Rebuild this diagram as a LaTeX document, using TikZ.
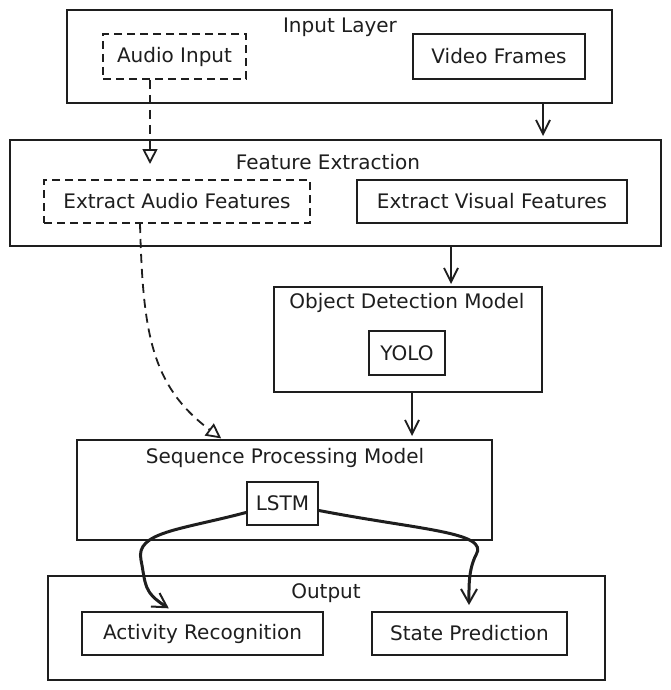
\documentclass[tikz,border=0pt]{standalone}
\usepackage{fontspec}
\setmainfont{DejaVu Sans}
\usetikzlibrary{arrows.meta}
\definecolor{ink}{HTML}{1E1E1E}
\begin{document}
\begin{tikzpicture}[x=1pt,y=-1pt,
  every node/.style={font=\fontsize{20}{24}\selectfont, text=ink},
  group/.style={draw=ink, line width=2pt, rectangle, inner sep=0pt},
  item/.style={draw=ink, line width=2pt, rectangle, inner sep=0pt},
  dashitem/.style={item, dash pattern=on 8pt off 5pt},
  title/.style={inner sep=0pt},
  flow/.style={draw=ink, line width=1.8pt, -{Straight Barb[length=14pt,width=14pt,line width=1.8pt]}},
  dflow/.style={draw=ink, line width=1.8pt, dash pattern=on 9pt off 6pt, -{Triangle[open,length=15pt,width=15pt,line width=1.8pt]}},
  thickflow/.style={draw=ink, line width=3pt, line cap=round, -{Straight Barb[length=14pt,width=16pt,line width=2pt]}},
]
\useasboundingbox (0,0) rectangle (671,690);
\fill[white] (0,0) rectangle (671,690);

% containers
\node[group, minimum width=545pt, minimum height=93pt] (inl) at (339.5,56.5) {};
\node[title] (inlt) at (340,27) {Input Layer};
\node[group, minimum width=651pt, minimum height=106pt] (fe) at (335.5,193) {};
\node[title] (fet) at (328,162) {Feature Extraction};
\node[group, minimum width=268pt, minimum height=105pt] (odm) at (408,339.5) {};
\node[title] (odmt) at (407,303) {Object Detection Model};
\node[group, minimum width=415pt, minimum height=100pt] (spm) at (284.5,490) {};
\node[title] (spmt) at (285,458) {Sequence Processing Model};
\node[group, minimum width=557pt, minimum height=104pt] (out) at (326.5,628) {};
\node[title] (outt) at (326,593) {Output};

% items
\node[dashitem, minimum width=143pt, minimum height=45pt] (audio) at (174.5,56.5) {Audio Input};
\node[item, minimum width=172pt, minimum height=45pt] (video) at (499,56.5) {Video Frames};
\node[dashitem, minimum width=266pt, minimum height=43pt] (aef) at (177,201.5) {Extract Audio Features};
\node[item, minimum width=270pt, minimum height=43pt] (avf) at (492,201.5) {Extract Visual Features};
\node[item, minimum width=76pt, minimum height=44pt] (yolo) at (407,353) {YOLO};
\node[item, minimum width=71pt, minimum height=43pt] (lstm) at (282.5,503.5) {LSTM};
\node[item, minimum width=241pt, minimum height=43pt] (act) at (202.5,633.5) {Activity Recognition};
\node[item, minimum width=195pt, minimum height=43pt] (state) at (469.5,633.5) {State Prediction};

% x positions of connectors
\coordinate (xa) at (150,0);
\coordinate (xv) at (543,0);
\coordinate (xe) at (140,0);
\coordinate (xs) at (222,0);
\coordinate (xf) at (451,0);
\coordinate (xo) at (412,0);
\coordinate (xr) at (173,0);
\coordinate (xp) at (469,0);

% connectors
\draw[dflow, shorten >=15pt] (audio.south -| xa) -- (aef.north -| xa);
\draw[flow, shorten >=3pt] (inl.south -| xv) -- (fe.north -| xv);
\draw[dflow, shorten >=1pt] (aef.south -| xe) .. controls (143,330) and (150,385) .. (spm.north -| xs);
\draw[flow, shorten >=2pt] (fe.south -| xf) -- (odm.north -| xf);
\draw[flow, shorten >=3pt] (odm.south -| xo) -- (spm.north -| xo);
\draw[thickflow, shorten >=5pt] ([yshift=-9pt]lstm.west) .. controls (180,530) and (135,532) .. (141,560)
   .. controls (146,585) and (143,592) .. (act.north -| xr);
\draw[thickflow, shorten >=6pt] ([yshift=-7pt]lstm.east) .. controls (420,530) and (490,532) .. (476,555)
   .. controls (468,570) and (469,590) .. (state.north -| xp);
\end{tikzpicture}
\end{document}
